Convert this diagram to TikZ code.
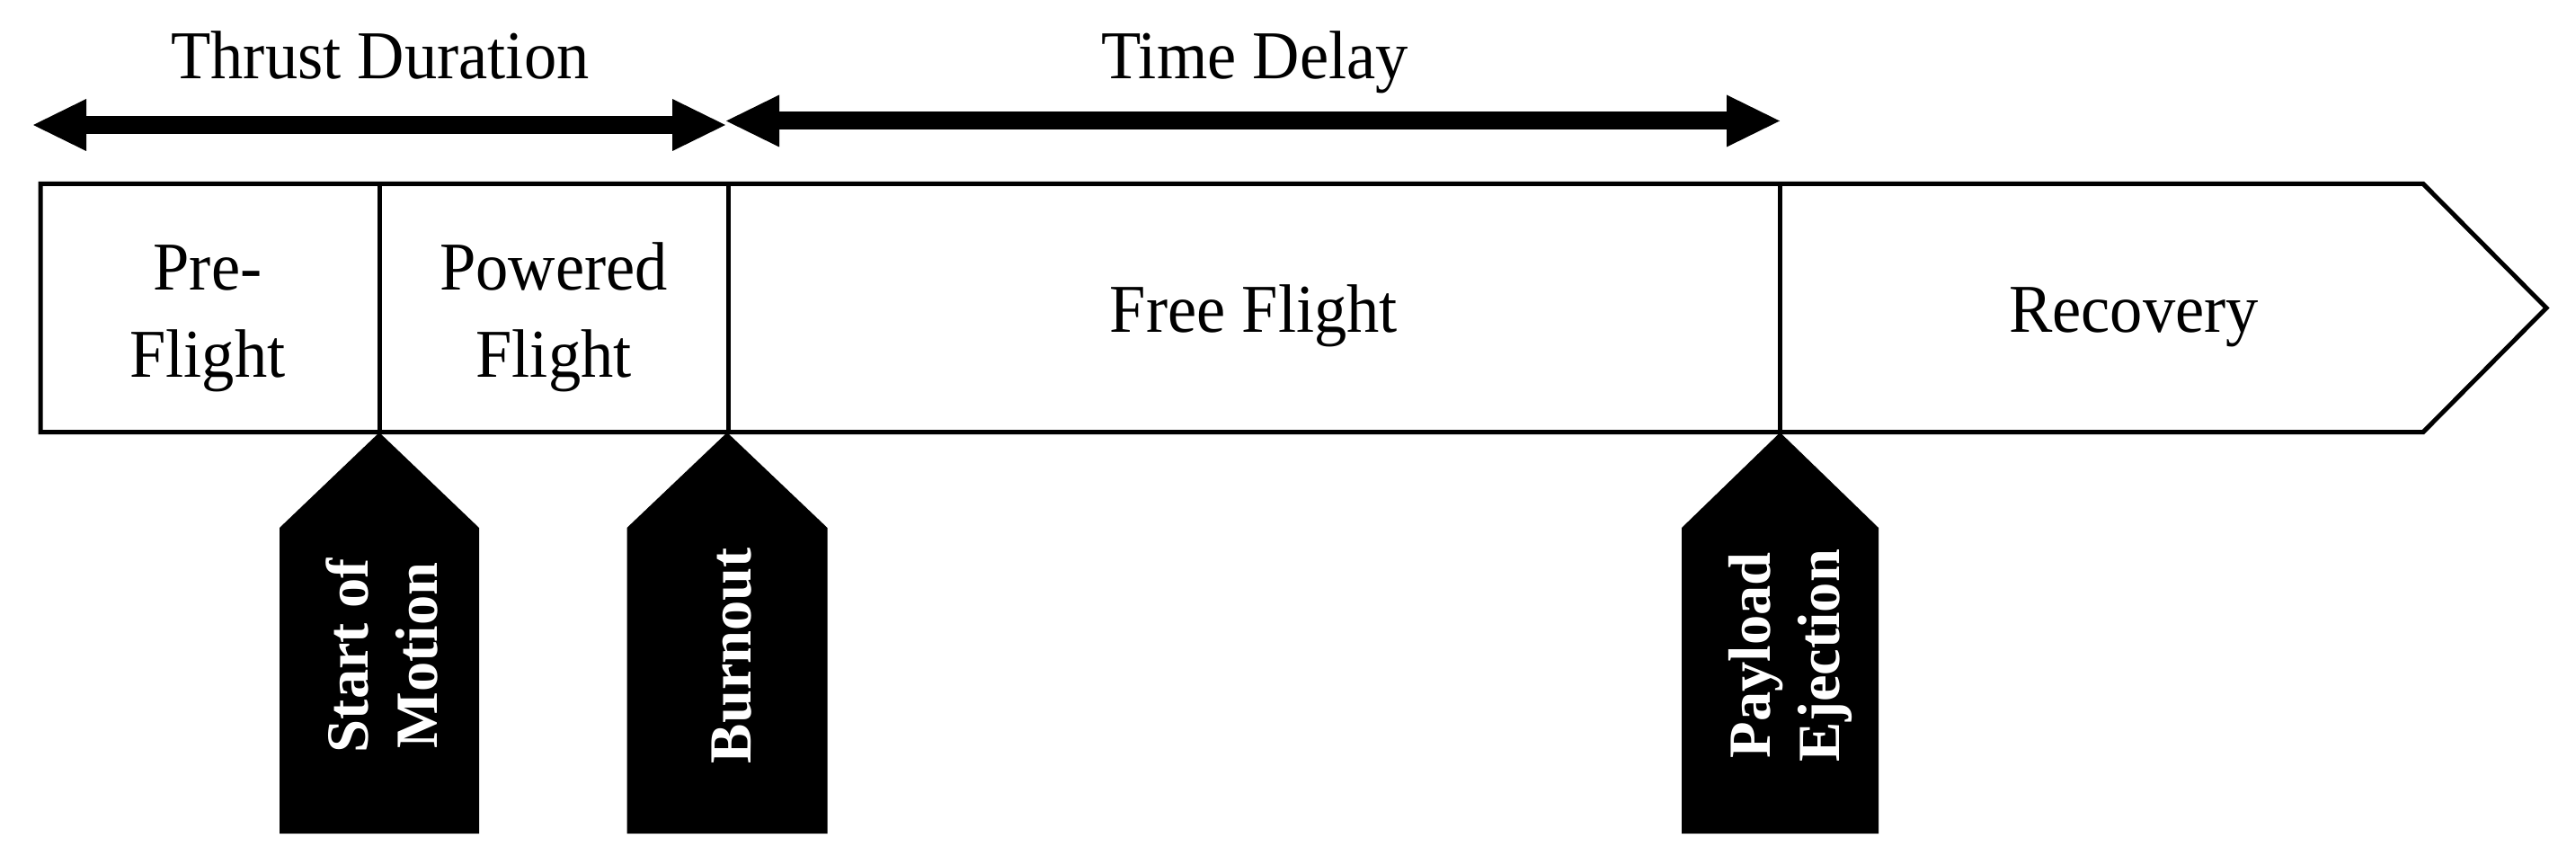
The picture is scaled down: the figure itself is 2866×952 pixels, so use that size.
\documentclass[tikz,border=0pt]{standalone}
\usepackage{fontspec}
\setmainfont{Liberation Serif}
\usetikzlibrary{arrows.meta}
\begin{document}
\begin{tikzpicture}[x=1pt,y=-1pt,
  band/.style={line width=5pt, line join=miter},
  dimarrow/.style={line width=20pt,
    {Triangle[length=59pt,width=58pt,line width=0pt]}-{Triangle[length=59pt,width=58pt,line width=0pt]}},
  lbl/.style={inner sep=0pt, yscale=1.05, font=\fontsize{72.5pt}{92pt}\selectfont, align=center},
  taglbl/.style={inner sep=0pt, text=white, rotate=90, align=center,
    font=\fontsize{66.5pt}{77pt}\selectfont\bfseries},
  tagfill/.style={fill=black}]
\useasboundingbox (0,0) rectangle (2866,952);

% dimension arrows
\coordinate (tdL) at (37,139);
\coordinate (tdR) at (807,139);
\coordinate (dlL) at (808,134.5);
\coordinate (dlR) at (1980,134.5);
\draw[dimarrow] (tdL) -- (tdR);
\draw[dimarrow] (dlL) -- (dlR);
\node[lbl, anchor=base] (thrust) at (423,88) {Thrust Duration};
\node[lbl, anchor=base] (delay) at (1396,87.3) {Time Delay};

% phase band
\draw[band] (45,204.5) -- (2696,204.5) -- (2833,342.5) -- (2696,480.5) -- (45,480.5) -- cycle;
\draw[band] (422,204.5) -- (422,480.5);
\draw[band] (810,204.5) -- (810,480.5);
\draw[band] (1980,204.5) -- (1980,480.5);

\node[lbl] (pre) at (231,354) {Pre-\\Flight};
\node[lbl] (powered) at (616,353) {Powered\\Flight};
\node[lbl, anchor=base] (free) at (1395,369) {Free Flight};
\node[lbl, anchor=base] (recovery) at (2374,369.5) {Recovery};

% event tags
\fill[tagfill] (422,481) -- (533,587) -- (533,927) -- (311,927) -- (311,587) -- cycle;
\fill[tagfill] (809,481) -- (920.5,587) -- (920.5,927) -- (697.5,927) -- (697.5,587) -- cycle;
\fill[tagfill] (1980.5,481) -- (2090,587) -- (2090,927) -- (1871,927) -- (1871,587) -- cycle;

\node[taglbl] (start) at (425,729) {Start of\\Motion};
\node[taglbl] (burnout) at (814,729) {Burnout};
\node[taglbl] (payload) at (1991.5,729) {Payload\\Ejection};
\end{tikzpicture}
\end{document}
